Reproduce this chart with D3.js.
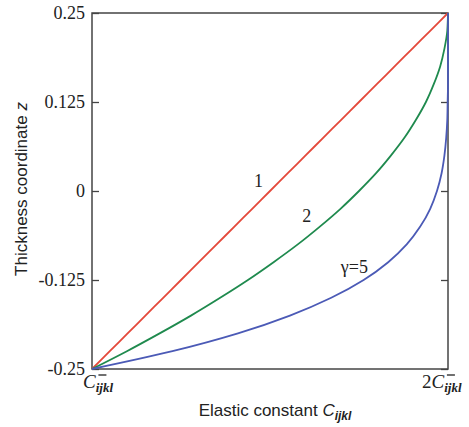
<!DOCTYPE html>
<html>
<head>
<meta charset="utf-8">
<script src="https://cdn.jsdelivr.net/npm/d3@7"></script>
<style>
    body { margin: 0; background: #fff; }
    svg { display: block; }
    .serif { font-family: "Liberation Serif", "DejaVu Serif", serif; }
    .sans { font-family: "Liberation Sans", Arial, sans-serif; }
</style>
</head>
<body>
<div id="chart"></div>
<script>
// thickness coordinate z (shared by the curves)
const zValues = [-0.25, -0.225, -0.2, -0.175, -0.15, -0.125, -0.1, -0.075, -0.05, -0.025,
    0, 0.025, 0.05, 0.075, 0.1, 0.125, 0.15, 0.175, 0.2, 0.225, 0.25];
// elastic constant, in units of the mean C
const curve1 = [1.0, 1.05, 1.10, 1.15, 1.20, 1.25, 1.30, 1.35, 1.40, 1.45,
    1.50, 1.55, 1.60, 1.65, 1.70, 1.75, 1.80, 1.85, 1.90, 1.95, 2.0];
const curve2 = [1.0, 1.098, 1.19, 1.278, 1.36, 1.438, 1.51, 1.578, 1.64, 1.698,
    1.75, 1.798, 1.84, 1.878, 1.91, 1.938, 1.96, 1.978, 1.99, 1.998, 2.0];
const curve5 = [1.0, 1.226, 1.41, 1.556, 1.672, 1.763, 1.832, 1.884, 1.922, 1.95,
    1.969, 1.982, 1.99, 1.995, 1.998, 1.999, 2.0, 2.0, 2.0, 2.0, 2.0];
const yTicks = [0.25, 0.125, 0, -0.125, -0.25];
const yTickLabels = ['0.25', '0.125', '0', '-0.125', '-0.25'];

(function () {
    const width = 469;
    const height = 427;

    const svg = d3.select('#chart')
        .append('svg')
        .attr('width', width)
        .attr('height', height);

    const x = d3.scaleLinear().domain([1, 2]).range([92, 448]);
    const y = d3.scaleLinear().domain([-0.25, 0.25]).range([369, 13]);

    // left axis, ticks pointing inward
    const yAxis = d3.axisLeft(y)
        .tickValues(yTicks)
        .tickFormat((d, i) => yTickLabels[i])
        .tickSize(-7)
        .tickPadding(7);

    const gy = svg.append('g')
        .attr('transform', `translate(${x(1)},0)`)
        .call(yAxis);
    gy.select('.domain').remove();
    gy.selectAll('line').attr('stroke', '#444').attr('stroke-width', 1.3);
    gy.selectAll('text')
        .attr('class', 'serif')
        .attr('font-size', 18)
        .attr('fill', '#222');

    const gr = svg.append('g')
        .attr('transform', `translate(${x(2)},0)`)
        .call(d3.axisRight(y).tickValues(yTicks).tickFormat('').tickSize(-7));
    gr.select('.domain').remove();
    gr.selectAll('line').attr('stroke', '#444').attr('stroke-width', 1.3);

    // frame
    svg.append('rect')
        .attr('x', x(1))
        .attr('y', y(0.25))
        .attr('width', x(2) - x(1))
        .attr('height', y(-0.25) - y(0.25))
        .attr('fill', 'none')
        .attr('stroke', '#444')
        .attr('stroke-width', 1.5);

    // curves
    const line = d3.line()
        .x(d => x(d[0]))
        .y(d => y(d[1]))
        .curve(d3.curveMonotoneY);

    const series = [
        { values: curve1, color: '#e4493b' },
        { values: curve2, color: '#1f8a4e' },
        { values: curve5, color: '#4b5ab6' }
    ];

    series.forEach(s => {
        svg.append('path')
            .datum(s.values.map((v, i) => [v, zValues[i]]))
            .attr('d', line)
            .attr('fill', 'none')
            .attr('stroke', s.color)
            .attr('stroke-width', 1.8);
    });

    // curve labels
    const curveLabels = [
        { text: '1', c: 1.468, z: 0.012 },
        { text: '2', c: 1.603, z: -0.038 },
        { text: 'γ=5', c: 1.737, z: -0.11 }
    ];
    svg.selectAll('.curve-label')
        .data(curveLabels)
        .enter()
        .append('text')
        .attr('class', 'serif')
        .attr('x', d => x(d.c))
        .attr('y', d => y(d.z))
        .attr('text-anchor', 'middle')
        .attr('dominant-baseline', 'middle')
        .attr('font-size', 18)
        .attr('fill', '#222')
        .text(d => d.text);

    // x tick labels: C and 2C with overbar
    const xLabel = (px, prefix) => {
        const t = svg.append('text')
            .attr('class', 'serif')
            .attr('x', px)
            .attr('y', 388)
            .attr('font-size', 19)
            .attr('fill', '#222');
        if (prefix) t.append('tspan').text(prefix);
        t.append('tspan').attr('font-style', 'italic').text('C');
        t.append('tspan')
            .attr('font-style', 'italic')
            .attr('font-weight', 'bold')
            .attr('font-size', 13)
            .attr('dy', 4)
            .text('ijkl');
        const bb = t.node().getBBox();
        svg.append('line')
            .attr('x1', bb.x + bb.width - 15)
            .attr('x2', bb.x + bb.width - 7)
            .attr('y1', 375)
            .attr('y2', 375)
            .attr('stroke', '#222')
            .attr('stroke-width', 1.3);
    };
    xLabel(x(1) - 9);
    xLabel(x(2) - 26, '2');

    // axis titles
    const xt = svg.append('text')
        .attr('class', 'sans')
        .attr('x', (x(1) + x(2)) / 2 + 5)
        .attr('y', 416)
        .attr('text-anchor', 'middle')
        .attr('font-size', 17)
        .attr('fill', '#222');
    xt.append('tspan').text('Elastic constant ');
    xt.append('tspan').attr('font-style', 'italic').text('C');
    xt.append('tspan')
        .attr('font-style', 'italic')
        .attr('font-weight', 'bold')
        .attr('font-size', 12)
        .attr('dy', 4)
        .text('ijkl');

    const yt = svg.append('text')
        .attr('class', 'sans')
        .attr('transform', 'translate(27,189) rotate(-90)')
        .attr('text-anchor', 'middle')
        .attr('font-size', 17)
        .attr('fill', '#222');
    yt.append('tspan').text('Thickness coordinate ');
    yt.append('tspan').attr('font-style', 'italic').text('z');
})();
</script>
</body>
</html>
